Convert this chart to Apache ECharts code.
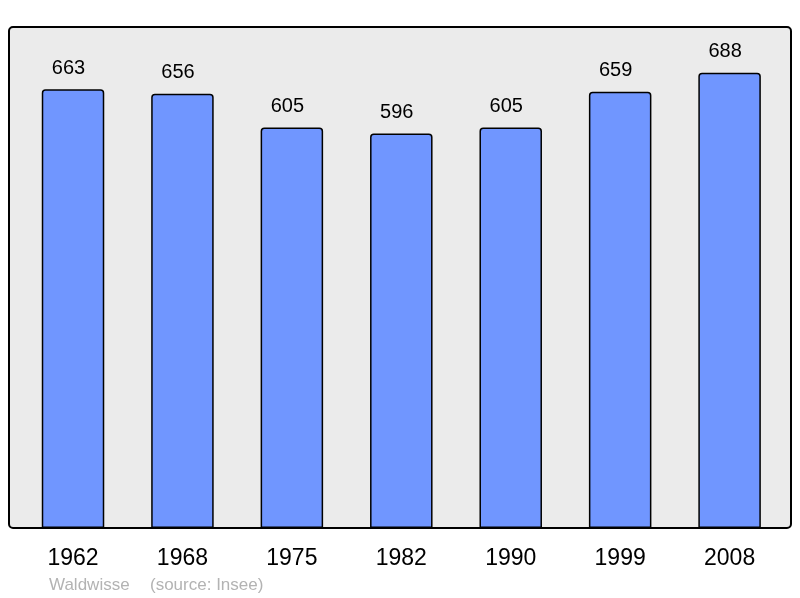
<!DOCTYPE html>
<html>
<head>
<meta charset="utf-8">
<script src="https://cdn.jsdelivr.net/npm/echarts@6/dist/echarts.min.js"></script>
<style>html,body{margin:0;padding:0;background:#fff;}#c{width:800px;height:598px;}</style>
</head>
<body>
<div id="c"></div>
<script>
const years = ['1962', '1968', '1975', '1982', '1990', '1999', '2008'];
const population = [663, 656, 605, 596, 605, 659, 688];
const placeName = 'Waldwisse';
const sourceText = '(source: Insee)';

const chart = echarts.init(document.getElementById('c'), null, {renderer: 'canvas'});
chart.setOption({
  animation: false,
  backgroundColor: '#ffffff',
  graphic: [
    {type: 'rect', z: -10, shape: {x: 9, y: 27, width: 782, height: 501, r: 4},
     style: {fill: '#ebebeb', stroke: '#000', lineWidth: 2}},
    {type: 'text', left: 49, top: 577, style: {text: placeName, fill: '#b3b3b3', font: '17px "Liberation Sans", Arial, sans-serif'}},
    {type: 'text', left: 150, top: 577, style: {text: sourceText, fill: '#b3b3b3', font: '17px "Liberation Sans", Arial, sans-serif'}}
  ],
  grid: {left: 18.3, width: 766, top: 27, height: 501},
  xAxis: {
    type: 'category', data: years,
    axisLine: {show: false}, axisTick: {show: false},
    axisLabel: {margin: 19, fontSize: 23, color: '#000', fontFamily: '"Liberation Sans", Arial, sans-serif'}
  },
  yAxis: {
    type: 'value', min: 0, max: 757, show: false, splitLine: {show: false}
  },
  series: [{
    type: 'bar', data: population, barWidth: 62.5,
    itemStyle: {color: '#7096ff', borderColor: '#000', borderWidth: 1.5, borderRadius: [3, 3, 0, 0]},
    label: {show: true, position: 'top', distance: 11, offset: [-4.5, 0], fontSize: 20, color: '#000',
            fontFamily: '"Liberation Sans", Arial, sans-serif'}
  }]
});
</script>
</body>
</html>
